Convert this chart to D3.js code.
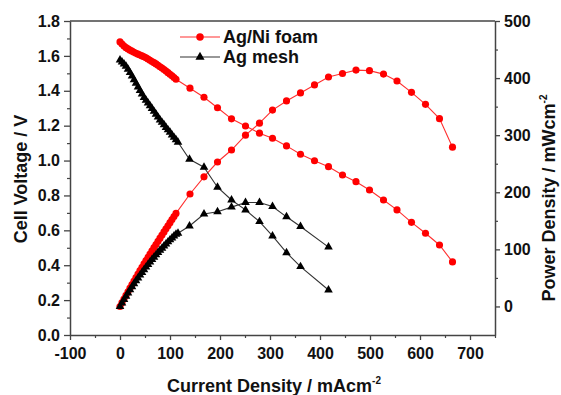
<!DOCTYPE html>
<html><head><meta charset="utf-8">
<script src="https://cdn.jsdelivr.net/npm/d3@7"></script>
<style>
body{margin:0;background:#fff;}
svg text{font-family:"Liberation Sans",Arial,sans-serif;font-weight:bold;fill:#111;}
</style></head>
<body><svg id="c" width="561" height="395"></svg>
<script>
// ---- data ----
const seriesNames = ["Ag/Ni foam", "Ag mesh"];
// Ag/Ni foam
const foamCurrent = [0,4,8,12,16,20,24,28,32,36,40,44,48,52,56,60,64,68,72,76,80,84,88,92,96,100,104,108,112,
  140,168,195,223,251,279,305,333,361,389,417,445,472,499,527,554,583,611,639,665];
const foamVoltage = [1.680,1.668,1.657,1.647,1.640,1.633,1.627,1.621,1.615,1.610,1.605,1.600,1.595,1.589,1.582,1.575,1.568,1.561,1.554,1.546,1.538,1.530,1.522,1.513,1.504,1.495,1.486,1.476,1.466,
  1.415,1.363,1.303,1.239,1.198,1.157,1.128,1.084,1.036,0.999,0.965,0.917,0.879,0.831,0.774,0.717,0.646,0.583,0.516,0.419];
const foamPower = [0,6.6,13.1,19.5,25.8,32.1,38.3,44.5,50.6,56.7,62.7,68.6,74.5,80.3,86.0,91.7,97.4,103.0,108.6,114.1,119.6,125.1,130.6,136.0,141.4,146.8,152.2,157.6,163.0,
  197,227,253,274,300,321,344,360,374,388,402,408,414,413,407,395,375,354,329,279];
// Ag mesh
const meshCurrent = [0,4,8,12,16,20,24,28,32,36,40,44,48,52,56,60,64,68,72,76,80,84,88,92,96,100,104,108,112,116,
  139,168,195,223,251,279,305,333,361,417];
const meshVoltage = [1.577,1.565,1.553,1.541,1.524,1.504,1.484,1.463,1.443,1.422,1.402,1.382,1.362,1.346,1.330,1.314,1.298,1.282,1.266,1.249,1.233,1.219,1.205,1.190,1.176,1.162,1.147,1.133,1.119,1.105,
  1.007,0.962,0.847,0.774,0.717,0.650,0.568,0.472,0.392,0.258];
const meshPower = [0,6.0,12.0,17.9,23.6,29.2,34.6,39.9,45.0,50.0,54.9,59.6,64.3,68.9,73.4,77.8,82.1,86.3,90.4,94.4,98.3,102.1,105.9,109.5,113.1,116.6,120.0,123.3,126.5,128.2,
  141,162,166,174,182,182,175,157,140,104];
const xTicks = [-100,0,100,200,300,400,500,600,700];
const yLeftTicks = [0.0,0.2,0.4,0.6,0.8,1.0,1.2,1.4,1.6,1.8];
const yRightTicks = [0,100,200,300,400,500];

// ---- layout ----
const L = 70, R = 495, T = 21, B = 335;
const svg = d3.select("#c");
const x = d3.scaleLinear().domain([-100, 750]).range([L, R]);
const yL = d3.scaleLinear().domain([0, 1.8]).range([B, T]);
const yR = d3.scaleLinear().domain([-50, 500]).range([B, T]);
const axisColor = "#444";

// frame
svg.append("line").attr("x1",L).attr("x2",R).attr("y1",T).attr("y2",T).attr("stroke",axisColor).attr("stroke-width",1.5);

function styleAxis(g){
  g.select(".domain").attr("stroke",axisColor).attr("stroke-width",1.5);
  g.selectAll(".tick line").attr("stroke",axisColor).attr("stroke-width",1.3);
  g.selectAll(".tick text").attr("font-size","16px").attr("fill","#111");
}
// minor ticks
const gxm = svg.append("g").attr("transform",`translate(0,${B})`)
  .call(d3.axisBottom(x).tickValues(d3.range(-50,751,100)).tickSize(3).tickFormat(""));
gxm.select(".domain").remove(); gxm.selectAll("line").attr("stroke",axisColor).attr("stroke-width",1.2);
const gylm = svg.append("g").attr("transform",`translate(${L},0)`)
  .call(d3.axisLeft(yL).tickValues(d3.range(0.1,1.8,0.2)).tickSize(3).tickFormat(""));
gylm.select(".domain").remove(); gylm.selectAll("line").attr("stroke",axisColor).attr("stroke-width",1.2);
const gyrm = svg.append("g").attr("transform",`translate(${R},0)`)
  .call(d3.axisRight(yR).tickValues(d3.range(50,500,100)).tickSize(3).tickFormat(""));
gyrm.select(".domain").remove(); gyrm.selectAll("line").attr("stroke",axisColor).attr("stroke-width",1.2);

// major axes
const gx = svg.append("g").attr("transform",`translate(0,${B})`)
  .call(d3.axisBottom(x).tickValues(xTicks).tickSize(5).tickSizeOuter(0).tickPadding(8).tickFormat(d=>String(d)));
styleAxis(gx);
const gyl = svg.append("g").attr("transform",`translate(${L},0)`)
  .call(d3.axisLeft(yL).tickValues(yLeftTicks).tickSize(6).tickSizeOuter(0).tickPadding(4).tickFormat(d3.format(".1f")));
styleAxis(gyl);
const gyr = svg.append("g").attr("transform",`translate(${R},0)`)
  .call(d3.axisRight(yR).tickValues(yRightTicks).tickSize(5).tickSizeOuter(0).tickPadding(4).tickFormat(d=>String(d)));
styleAxis(gyr);

// axis titles
svg.append("text").attr("x",167).attr("y",392).attr("text-anchor","start").attr("font-size","18px")
  .html('Current Density / mAcm<tspan dy="-8" font-size="10px">-2</tspan>');
svg.append("text").attr("transform","translate(27,179) rotate(-90)").attr("text-anchor","middle").attr("font-size","18px")
  .text("Cell Voltage  /  V");
svg.append("text").attr("transform","translate(555,198) rotate(-90)").attr("text-anchor","middle").attr("font-size","18px")
  .html('Power Density  /  mWcm<tspan dy="-8" font-size="10px">-2</tspan>');

// series
const red = "#ff0000", black = "#000";
function drawSeries(cur, vals, yScale, color, lineColor, shape){
  const pts = cur.map((c,i)=>[x(c), yScale(vals[i])]);
  svg.append("path").attr("d", d3.line()(pts)).attr("fill","none").attr("stroke",lineColor).attr("stroke-width",1.1);
  const sym = shape === "circle" ? d3.symbol().type(d3.symbolCircle).size(40) : d3.symbol().type(d3.symbolTriangle).size(32);
  svg.append("g").selectAll("path").data(pts).join("path")
    .attr("transform",d=>`translate(${d[0]},${d[1]})`).attr("d",sym).attr("fill",color);
}
drawSeries(foamCurrent, foamVoltage, yL, red, "#ff3030", "circle");
drawSeries(foamCurrent, foamPower, yR, red, "#ff3030", "circle");
drawSeries(meshCurrent, meshVoltage, yL, black, "#333", "tri");
drawSeries(meshCurrent, meshPower, yR, black, "#333", "tri");

// legend
const leg = [{name:seriesNames[0], color:red, line:"#ff3030", shape:"circle", y:37},
             {name:seriesNames[1], color:black, line:"#333", shape:"tri", y:57}];
leg.forEach(d=>{
  svg.append("line").attr("x1",180).attr("x2",220).attr("y1",d.y).attr("y2",d.y).attr("stroke",d.line).attr("stroke-width",1.1);
  const sym = d.shape==="circle" ? d3.symbol().type(d3.symbolCircle).size(44) : d3.symbol().type(d3.symbolTriangle).size(36);
  svg.append("path").attr("transform",`translate(200,${d.y})`).attr("d",sym).attr("fill",d.color);
  svg.append("text").attr("x",223).attr("y",d.y+5.5).attr("font-size","18px").text(d.name);
});
</script></body></html>
